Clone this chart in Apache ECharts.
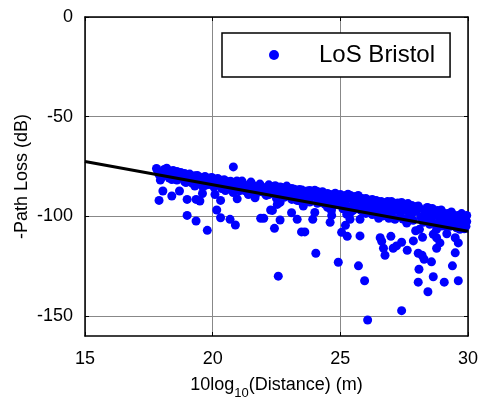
<!DOCTYPE html>
<html>
<head>
<meta charset="utf-8">
<script src="https://cdn.jsdelivr.net/npm/echarts@6/dist/echarts.min.js"></script>
<style>html,body{margin:0;padding:0;background:#fff}#c{width:483px;height:410px}</style>
</head>
<body>
<div id="c"></div>
<script>
// 10log10(distance), -path loss (dB) pairs
var losPoints = [
[17.8,-76],[17.85,-77.5],[17.9,-79],[17.95,-81.8],[18.05,-87.3],[17.9,-92],[18.0,-78],[18.1,-76.5],[18.2,-75.8],[18.25,-77],
[18.3,-78.5],[18.35,-80],[18.4,-81.5],[18.4,-89.8],[18.45,-77],[18.5,-78],[18.55,-79.5],[18.6,-77.5],[18.65,-80.5],[18.7,-87.3],
[18.75,-78],[18.8,-79],[18.85,-81],[18.9,-78.5],[18.95,-83],[19.0,-79.5],[19.0,-91.5],[19.0,-99.5],[19.05,-80.5],[19.1,-78.8],
[19.15,-82],[19.2,-80],[19.25,-81],[19.3,-84.8],[19.35,-102.3],[19.35,-91.5],[19.4,-79.5],[19.45,-81.5],[19.5,-92.3],[19.5,-80.5],
[19.55,-82.5],[19.6,-88.5],[19.65,-81],[19.7,-80],[19.75,-83],[19.79,-107],[19.8,-81.5],[19.85,-84],[19.9,-82],[19.95,-80.5],
[20.0,-83],[20.05,-81.5],[20.09,-89],[20.1,-84.5],[20.15,-82.5],[20.16,-96.8],[20.2,-81],[20.25,-83.5],[20.31,-92],[20.31,-100.7],
[20.35,-82],[20.4,-85],[20.45,-83],[20.5,-84],[20.55,-82.5],[20.6,-86],[20.65,-83.5],[20.68,-101.5],[20.7,-85],[20.75,-84],
[20.8,-88],[20.81,-75.2],[20.85,-83],[20.89,-104.3],[20.9,-86],[20.96,-91.2],[21.0,-84.5],[21.05,-83],[21.1,-86.5],[21.15,-84],
[21.2,-85.5],[21.25,-87],[21.3,-84.5],[21.35,-86],[21.4,-85],[21.45,-87.5],[21.5,-86],[21.55,-85],[21.6,-87],[21.66,-90.7],
[21.7,-86],[21.75,-88],[21.8,-86.5],[21.88,-101],[21.9,-87.5],[22.0,-101],[22.0,-86],[22.05,-88.5],[22.1,-85.5],[22.15,-87],
[22.2,-89],[22.27,-96.8],[22.3,-86.5],[22.34,-97],[22.4,-85],[22.42,-106],[22.45,-88],[22.5,-86],[22.53,-94],[22.57,-130],
[22.6,-87.5],[22.64,-93],[22.64,-101.8],[22.7,-85.5],[22.75,-88],[22.8,-87],[22.85,-89],[22.9,-86.5],[22.95,-88.5],[23.0,-87],
[23.05,-89.5],[23.09,-98.2],[23.1,-86],[23.15,-88],[23.2,-90],[23.25,-87.5],[23.31,-101.5],[23.35,-88.5],[23.4,-86.5],[23.48,-107.8],
[23.5,-89],[23.55,-94.8],[23.6,-87.5],[23.61,-107.8],[23.7,-88.5],[23.75,-90.5],[23.8,-87],[23.85,-89],[23.92,-101.5],[23.95,-88],
[24.0,-98],[24.04,-118.5],[24.05,-90],[24.1,-87.5],[24.15,-89.5],[24.2,-88],[24.3,-90],[24.35,-91.5],[24.4,-89],[24.5,-95.5],
[24.5,-90.5],[24.6,-103],[24.6,-89],[24.65,-97],[24.66,-99.5],[24.7,-91],[24.75,-89.5],[24.8,-92],[24.85,-90],[24.92,-123],
[24.95,-91.5],[25.0,-89],[25.05,-108],[25.1,-90.5],[25.2,-104.5],[25.2,-89.5],[25.27,-110],[25.3,-91],[25.38,-101.5],[25.4,-98],
[25.4,-89.5],[25.5,-91],[25.55,-93],[25.6,-90],[25.71,-124.8],[25.75,-92],[25.77,-109.8],[25.77,-101.5],[25.77,-96.5],[25.8,-94],
[25.85,-91],[25.95,-132.3],[25.95,-93.5],[26.0,-91],[26.07,-152],[26.1,-92.5],[26.2,-94],[26.25,-91.5],[26.3,-93],[26.4,-92],
[26.5,-101],[26.5,-94.5],[26.56,-110.7],[26.6,-92.5],[26.62,-112.5],[26.69,-116],[26.75,-119.5],[26.7,-95],[26.8,-93],[26.9,-94.5],
[26.98,-110],[27.0,-92.5],[27.07,-116],[27.1,-95],[27.2,-114.8],[27.2,-93.5],[27.3,-96],[27.4,-113],[27.4,-147.3],[27.4,-93],
[27.5,-95.5],[27.6,-103.3],[27.62,-117],[27.6,-94],[27.7,-96.5],[27.8,-94.5],[27.86,-112.3],[27.9,-97],[27.95,-107.2],[28.0,-95],
[28.05,-118.5],[28.05,-133],[28.08,-126.5],[28.1,-106.5],[28.1,-96],[28.2,-119.5],[28.22,-110.5],[28.28,-121.5],[28.3,-97.5],[28.4,-95.5],
[28.43,-137.8],[28.5,-98],[28.57,-122.8],[28.6,-96],[28.64,-130.3],[28.7,-99],[28.77,-110.7],[28.77,-116],[28.77,-106.5],[28.8,-97],
[28.9,-113.3],[28.9,-99.5],[29.0,-98],[29.07,-133],[29.1,-100],[29.17,-108.7],[29.2,-98.5],[29.3,-101],[29.39,-124.8],[29.4,-104],
[29.4,-99],[29.5,-110.7],[29.5,-118.3],[29.5,-101.5],[29.62,-113.3],[29.62,-132.3],[29.6,-99.5],[29.68,-106.5],[29.7,-102],[29.8,-100],
[29.82,-104],[29.9,-101.5],[29.95,-99.5],
[25.1,-94],[25.6,-96],[26.3,-97],[27.0,-99],[27.7,-100],[28.3,-102],[28.9,-103],[29.3,-105],[29.9,-103],[24.2,-93],
[23.3,-92],[22.5,-91],[21.4,-89],[20.5,-87],[19.6,-85],[26.0,-98.5],[26.9,-101],[28.5,-104],
[25.25,-99],[27.14,-101.5],[28.97,-104.8],[28.64,-109],
[18.0,-80.5],[18.15,-79.2],[18.3,-80.8],[18.5,-79.6],[18.6,-81.8],[18.75,-80.3],[18.9,-82.5],[19.05,-81.2],[19.2,-83.3],[19.3,-79.6],
[19.45,-83.5],[19.6,-80.8],[19.7,-84.5],[19.85,-82.8],[20.0,-80.8],[20.05,-85.3],[20.2,-83.6],[20.35,-86],[20.45,-81.6],[20.6,-84.2],
[20.7,-82.4],[20.8,-86.2],[20.95,-82.2],[21.05,-87.2],[21.15,-82.3],[21.25,-84.8],[21.35,-87.8],[21.5,-82.8],[21.6,-84.6],[21.7,-88.4],
[21.85,-83.8],[21.95,-85.6],[22.1,-89.5],[22.2,-84.2],[22.3,-88.3],[22.45,-84.6],[22.55,-89.8],[22.65,-85.3],[22.8,-90.4],[22.9,-84.8],
[23.0,-89.8],[23.1,-91.5],[23.2,-86.4],[23.3,-89.3],[23.4,-92.2],[23.5,-86.8],[23.6,-90.8],[23.7,-87.3],[23.8,-92.8],[23.9,-89.7],
[24.0,-86.9],[24.1,-93.4],[24.2,-90.8],[24.3,-87.6],[24.4,-94],[24.5,-88.5],[24.6,-92.6],[24.7,-95],[24.8,-88.4],[24.9,-94.2],
[25.0,-91.8],[25.1,-96.2],[25.2,-92.4],[25.3,-88.9],[25.4,-95.2],[25.5,-97],[25.6,-92.8],[25.7,-89.5],[25.8,-96.8],[25.9,-98],
[26.05,-94.3],[26.15,-97.6],[26.25,-99.1],[26.35,-95],[26.45,-92.4],[26.55,-97.6],[26.65,-99.8],[26.75,-96.4],[26.85,-92.6],[26.95,-98.2],
[27.05,-100.8],[27.15,-96.6],[27.25,-93.3],[27.35,-98.6],[27.45,-101.3],[27.55,-97],[27.65,-93.6],[27.75,-99.4],[27.85,-102],[27.95,-97.6],
[28.05,-94.8],[28.15,-100.4],[28.25,-103],[28.35,-98.8],[28.45,-95.8],[28.55,-101.4],[28.65,-97.2],[28.75,-103.6],[28.85,-100],[28.95,-96.8],
[29.05,-102.3],[29.15,-104.8],[29.25,-99.6],[29.35,-97.8],[29.45,-103],[29.55,-105.7],[29.65,-101],[29.75,-98.6],[29.85,-106.2],[29.95,-102.6],
[29.92,-105]
];
// fitted line end points
var fitX = [15, 30];
var fitY = [-72.5, -107.5];
var xTicks = [15, 20, 25, 30];
var yTicks = [-150, -100, -50, 0];

var FONT = 'Liberation Sans, Arial, sans-serif';
var chart = echarts.init(document.getElementById('c'), null, {renderer: 'canvas'});
var fitData = fitX.map(function (x, i) { return [x, fitY[i]]; });

chart.setOption({
  animation: false,
  backgroundColor: '#fff',
  grid: {left: 85, right: 15, top: 17, bottom: 74, show: false},
  legend: {
    data: [{name: 'LoS Bristol', icon: 'circle'}],
    left: 222, top: 33,
    itemWidth: 10, itemHeight: 10,
    padding: [10, 15, 10, 47],
    borderColor: '#000', borderWidth: 1.5, backgroundColor: '#fff',
    textStyle: {fontFamily: FONT, fontSize: 24, color: '#000', lineHeight: 24, padding: [0, 0, 0, 35]}
  },
  xAxis: [{
    type: 'value', min: 15, max: 30, interval: 5,
    axisLine: {show: true, onZero: false, lineStyle: {color: '#000', width: 1.5}},
    axisTick: {show: true, inside: true, length: 4, lineStyle: {color: '#000'}, customValues: xTicks},
    axisLabel: {fontFamily: FONT, fontSize: 18, color: '#000', margin: 14, customValues: xTicks},
    splitLine: {show: true, lineStyle: {color: '#888', width: 1}},
    name: '{a|10log}{s|10}{a|(Distance) (m)}',
    nameLocation: 'middle', nameGap: 36, nameMoveOverlap: false,
    nameTextStyle: {
      fontFamily: FONT, color: '#000',
      rich: {a: {fontFamily: FONT, fontSize: 18, color: '#000', verticalAlign: 'bottom', lineHeight: 22},
             s: {fontFamily: FONT, fontSize: 13, color: '#000', verticalAlign: 'bottom', lineHeight: 14, padding: [0, 0, -6, 0]}}
    }
  }, {
    type: 'value', min: 15, max: 30, interval: 5, position: 'top',
    axisLine: {show: true, onZero: false, lineStyle: {color: '#000', width: 1.5}},
    axisTick: {show: true, inside: true, length: 4, lineStyle: {color: '#000'}},
    axisLabel: {show: false}, splitLine: {show: false}
  }],
  yAxis: [{
    type: 'value', min: -160, max: 0,
    axisLine: {show: true, onZero: false, lineStyle: {color: '#000', width: 1.5}},
    axisTick: {show: true, inside: true, length: 4, lineStyle: {color: '#000'}, customValues: yTicks},
    axisLabel: {fontFamily: FONT, fontSize: 18, color: '#000', margin: 12, customValues: yTicks},
    splitLine: {show: true, lineStyle: {color: '#888', width: 1}},
    name: '-Path Loss (dB)', nameLocation: 'middle', nameGap: 54, nameRotate: 90, nameMoveOverlap: false,
    nameTextStyle: {fontFamily: FONT, fontSize: 18, color: '#000'}
  }, {
    type: 'value', min: -160, max: 0, position: 'right',
    axisLine: {show: true, onZero: false, lineStyle: {color: '#000', width: 1.5}},
    axisTick: {show: true, inside: true, length: 4, lineStyle: {color: '#000'}, customValues: yTicks},
    axisLabel: {show: false}, splitLine: {show: false}
  }],
  series: [{
    name: 'LoS Bristol', type: 'scatter', data: losPoints,
    symbol: 'circle', symbolSize: 9,
    itemStyle: {color: '#0000ff', opacity: 1}
  }, {
    name: 'fit', type: 'line', data: fitData, showSymbol: false, symbol: 'none',
    lineStyle: {color: '#000', width: 3}, z: 5
  }]
});
</script>
</body>
</html>
